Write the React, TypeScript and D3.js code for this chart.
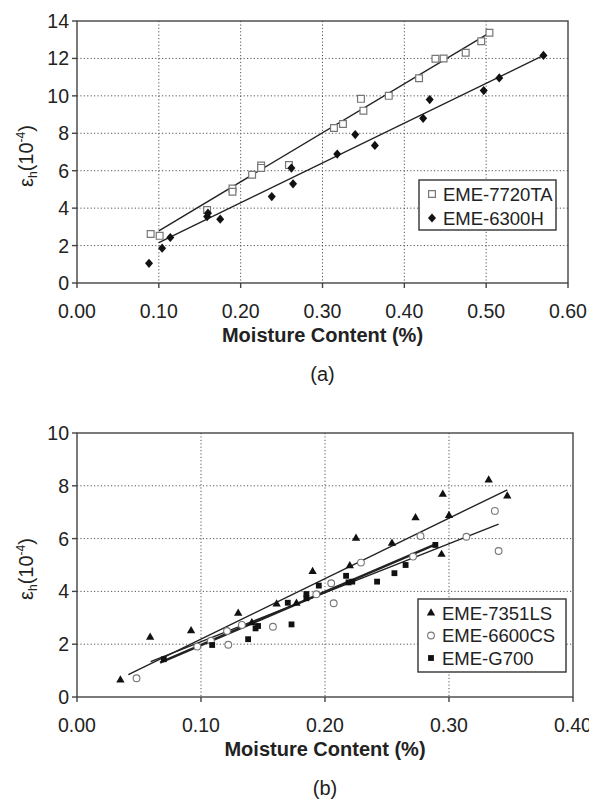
import React from 'react'
import * as d3 from 'd3'

// ---- panel (a) data ----
const a7720X = [0.090, 0.101, 0.159, 0.190, 0.190, 0.214, 0.225, 0.225, 0.259, 0.314, 0.325, 0.347, 0.350, 0.381, 0.418, 0.438, 0.448, 0.475, 0.494, 0.504]
const a7720Y = [2.62, 2.52, 3.90, 5.05, 4.88, 5.78, 6.28, 6.15, 6.30, 8.28, 8.50, 9.84, 9.21, 10.00, 10.94, 11.98, 12.00, 12.30, 12.92, 13.37]
const a6300X = [0.088, 0.104, 0.114, 0.159, 0.160, 0.175, 0.238, 0.262, 0.264, 0.318, 0.340, 0.364, 0.423, 0.431, 0.497, 0.516, 0.570]
const a6300Y = [1.05, 1.86, 2.43, 3.55, 3.73, 3.41, 4.62, 6.14, 5.30, 6.89, 7.93, 7.35, 8.80, 9.80, 10.28, 10.96, 12.16]
const aFit7720 = [[0.100, 2.79], [0.504, 13.37]]
const aFit6300 = [[0.100, 2.16], [0.570, 12.16]]
const aXTicks = [0, 0.1, 0.2, 0.3, 0.4, 0.5, 0.6]
const aYTicks = [0, 2, 4, 6, 8, 10, 12, 14]

// ---- panel (b) data ----
const b7351X = [0.035, 0.059, 0.092, 0.130, 0.141, 0.161, 0.177, 0.190, 0.220, 0.225, 0.254, 0.273, 0.294, 0.295, 0.300, 0.332, 0.347]
const b7351Y = [0.64, 2.26, 2.51, 3.17, 2.81, 3.52, 3.55, 4.75, 4.97, 6.01, 5.82, 6.79, 5.40, 7.68, 6.87, 8.22, 7.61]
const b6600X = [0.048, 0.097, 0.108, 0.121, 0.122, 0.133, 0.158, 0.193, 0.205, 0.207, 0.229, 0.271, 0.277, 0.314, 0.337, 0.340]
const b6600Y = [0.71, 1.91, 2.13, 2.50, 1.98, 2.73, 2.66, 3.89, 4.31, 3.55, 5.09, 5.32, 6.10, 6.07, 7.05, 5.53]
const bG700X = [0.070, 0.109, 0.138, 0.144, 0.146, 0.170, 0.173, 0.185, 0.185, 0.195, 0.217, 0.219, 0.222, 0.242, 0.256, 0.265, 0.289]
const bG700Y = [1.43, 1.97, 2.19, 2.60, 2.69, 3.57, 2.75, 3.90, 3.74, 4.22, 4.59, 4.34, 4.37, 4.37, 4.69, 5.00, 5.76]
const bFit7351 = [[0.0414, 0.85], [0.347, 7.85]]
const bFit6600 = [[0.0594, 1.34], [0.340, 6.55]]
const bFitG700 = [[0.067, 1.30], [0.290, 5.80]]
const bXTicks = [0, 0.1, 0.2, 0.3, 0.4]
const bYTicks = [0, 2, 4, 6, 8, 10]

const FONT = '"Liberation Sans", Arial, sans-serif'
const TXT = '#222'

// marker shapes
const shapes = {
  openSquare: { d: d3.symbol(d3.symbolSquare, 46)(), fill: '#fff', stroke: '#777', sw: 1.2 },
  diamond: { d: 'M0,-4.6L4,0L0,4.6L-4,0Z', fill: '#111', stroke: 'none', sw: 0 },
  triangle: { d: d3.symbol(d3.symbolTriangle, 30)(), fill: '#111', stroke: 'none', sw: 0 },
  openCircle: { d: d3.symbol(d3.symbolCircle, 36)(), fill: '#fff', stroke: '#777', sw: 1.1 },
  filledSquare: { d: d3.symbol(d3.symbolSquare, 34)(), fill: '#111', stroke: 'none', sw: 0 },
}

const Marker = ({ shape, x, y }) => {
  const s = shapes[shape]
  return <path d={s.d} transform={`translate(${x},${y})`} fill={s.fill} stroke={s.stroke} strokeWidth={s.sw} />
}

const Panel = ({ box, xDomain, yDomain, xTicks, yTicks, series, fits, legend, caption }) => {
  const { left, right, top, bottom } = box
  const x = d3.scaleLinear().domain(xDomain).range([left, right])
  const y = d3.scaleLinear().domain(yDomain).range([bottom, top])
  const line = d3.line().x(d => x(d[0])).y(d => y(d[1]))
  const midX = (left + right) / 2
  const midY = (top + bottom) / 2 + 4

  return (
    <g fontFamily={FONT} fill={TXT}>
      {/* grid */}
      {yTicks.slice(1, -1).map(t => (
        <line key={'gy' + t} x1={left} x2={right} y1={y(t)} y2={y(t)} stroke="#555" strokeWidth={1} strokeDasharray="1.2,2.2" />
      ))}
      {xTicks.slice(1, -1).map(t => (
        <line key={'gx' + t} x1={x(t)} x2={x(t)} y1={top} y2={bottom} stroke="#555" strokeWidth={1} strokeDasharray="1.2,2.2" />
      ))}
      {/* frame */}
      <rect x={left} y={top} width={right - left} height={bottom - top} fill="none" stroke="#444" strokeWidth={1.4} />
      {/* ticks */}
      {yTicks.map(t => (
        <g key={'ty' + t}>
          <line x1={left - 5} x2={left} y1={y(t)} y2={y(t)} stroke="#444" strokeWidth={1.4} />
          <text x={left - 8} y={y(t)} dy="0.36em" textAnchor="end" fontSize={19.5}>{t}</text>
        </g>
      ))}
      {xTicks.map(t => (
        <g key={'tx' + t}>
          <line x1={x(t)} x2={x(t)} y1={bottom} y2={bottom + 5} stroke="#444" strokeWidth={1.4} />
          <text x={x(t)} y={bottom + 35} textAnchor="middle" fontSize={19.5}>{d3.format('.2f')(t)}</text>
        </g>
      ))}
      {/* axis titles */}
      <text x={midX} y={bottom + 59} textAnchor="middle" fontSize={20} fontWeight="bold">Moisture Content (%)</text>
      <text transform={`translate(33,${midY}) rotate(-90)`} textAnchor="middle" fontSize={20}>
        ε<tspan fontSize={12} dy={4}>h</tspan><tspan dy={-4}>(10</tspan><tspan fontSize={12} dy={-8}>-4</tspan><tspan dy={8}>)</tspan>
      </text>
      <text x={midX} y={bottom + 98} textAnchor="middle" fontSize={20}>{caption}</text>
      {/* fit lines */}
      {fits.map((f, i) => (
        <path key={'f' + i} d={line(f.pts)} fill="none" stroke="#222" strokeWidth={f.w} />
      ))}
      {/* points */}
      {series.map(s => s.xs.map((v, i) => (
        <Marker key={s.name + i} shape={s.shape} x={x(v)} y={y(s.ys[i])} />
      )))}
      {/* legend */}
      <rect x={legend.x} y={legend.y} width={legend.w} height={legend.h} fill="#fff" stroke="#333" strokeWidth={1.4} />
      {series.map((s, i) => (
        <g key={'lg' + s.name} transform={`translate(${legend.x + 13},${legend.y + legend.first + i * legend.step})`}>
          <Marker shape={s.shape} x={0} y={0} />
          <text x={11} dy="0.36em" fontSize={18.5}>{s.name}</text>
        </g>
      ))}
    </g>
  )
}

export default function App() {
  const seriesA = [
    { name: 'EME-7720TA', shape: 'openSquare', xs: a7720X, ys: a7720Y },
    { name: 'EME-6300H', shape: 'diamond', xs: a6300X, ys: a6300Y },
  ]
  const seriesB = [
    { name: 'EME-7351LS', shape: 'triangle', xs: b7351X, ys: b7351Y },
    { name: 'EME-6600CS', shape: 'openCircle', xs: b6600X, ys: b6600Y },
    { name: 'EME-G700', shape: 'filledSquare', xs: bG700X, ys: bG700Y },
  ]
  return (
    <svg width={589} height={802} style={{ position: 'absolute', left: 0, top: 0, background: '#fff' }}>
      <rect width={589} height={802} fill="#fff" />
      <Panel
        box={{ left: 77, right: 568, top: 21, bottom: 283 }}
        xDomain={[0, 0.6]} yDomain={[0, 14]} xTicks={aXTicks} yTicks={aYTicks}
        series={seriesA}
        fits={[{ pts: aFit7720, w: 1.4 }, { pts: aFit6300, w: 1.4 }]}
        legend={{ x: 419, y: 180, w: 137, h: 50, first: 14, step: 24 }}
        caption="(a)"
      />
      <Panel
        box={{ left: 77, right: 573, top: 433, bottom: 697 }}
        xDomain={[0, 0.4]} yDomain={[0, 10]} xTicks={bXTicks} yTicks={bYTicks}
        series={seriesB}
        fits={[{ pts: bFit7351, w: 1.4 }, { pts: bFit6600, w: 1.4 }, { pts: bFitG700, w: 2.6 }]}
        legend={{ x: 418, y: 599, w: 148, h: 73, first: 14, step: 22.5 }}
        caption="(b)"
      />
    </svg>
  )
}
